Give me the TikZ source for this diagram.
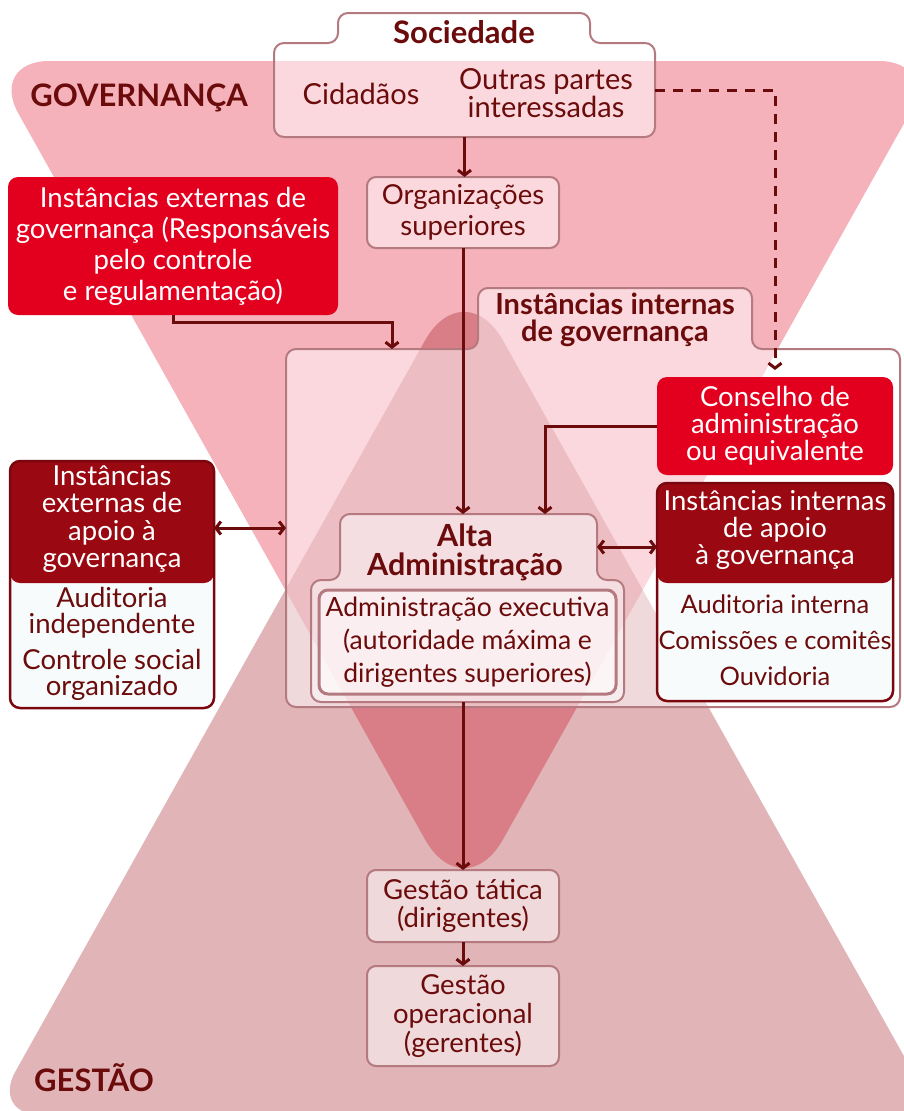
\documentclass[tikz,border=0pt]{standalone}
\usepackage{fontspec}
\setmainfont{Lato}
\usetikzlibrary{shapes,arrows.meta,backgrounds,calc}

\definecolor{GovPink}{HTML}{F5B2BB}
\definecolor{GesPink}{HTML}{E1B4B7}
\definecolor{Lobe}{HTML}{D97D87}
\definecolor{Rose}{HTML}{B47A7F}
\definecolor{Ink}{HTML}{6B0B0B}
\definecolor{Red}{HTML}{E3001F}
\definecolor{Maroon}{HTML}{9A0912}
\definecolor{Snow}{HTML}{F7FBFC}

\newcommand{\bodyfont}[1][30]{\fontsize{27.5}{#1}\selectfont}
\newcommand{\titlefont}[1][30]{\bfseries\fontsize{29}{#1}\selectfont}
% the two big funnels, y grows downwards
\newcommand{\govshape}{[rounded corners=60pt] (-11,61) -- (939,61) [rounded corners=80pt] -- (464,909) [rounded corners=60pt] -- cycle}
\newcommand{\gesshape}{[rounded corners=50pt] (-9,1115) -- (937,1115) [rounded corners=80pt] -- (464,271) [rounded corners=50pt] -- cycle}

\begin{document}
\begin{tikzpicture}[x=1pt,y=-1pt]
			\tikzstyle{Shell}	= [inner sep=0pt, outer sep=0pt]
			\tikzstyle{Text}	= [Shell, text=Ink, align=center, font=\bodyfont]
			\tikzstyle{Title}	= [Shell, text=Ink, align=center, font=\titlefont]
			\tikzstyle{Box}		= [Text, draw=Rose, line width=2pt, rounded corners=9pt, fill=white, fill opacity=0.5, text opacity=1]
			\tikzstyle{RedBox}	= [Shell, fill=Red, text=white, align=center, rounded corners=10pt, font=\bodyfont]
			\tikzstyle{Support}	= [Text, draw=Maroon!80!black, line width=2.5pt, rounded corners=10pt, fill=Snow]
			\tikzstyle{Frame}	= [draw=Rose, line width=2pt, rounded corners=10pt, fill=white, fill opacity=0.5]
			\tikzstyle{Link}	= [draw=Ink, line width=3pt, -{Straight Barb[length=5pt,width=13pt]}]
			\tikzstyle{Both}	= [draw=Ink, line width=3pt, {Straight Barb[length=5pt,width=13pt]}-{Straight Barb[length=5pt,width=13pt]}]
			\tikzstyle{DashLink}	= [Link, dash pattern=on 10pt off 8pt]

			\useasboundingbox (0,0) rectangle (904,1111);

			% sociedade
			\node (soc) at (464.5,90) [Shell, minimum width=381, minimum height=94] {};
			\node (soctab) at (464,28) [Shell, minimum width=252, minimum height=30] {};
			\node (socname) at (464,32) [Title, font={\bfseries\fontsize{31}{31}\selectfont}] {Sociedade};
			\node (cid) at (361,94) [Text, font={\fontsize{29}{30}\selectfont}] {Cidadãos};
			\node (outras) at (546,93) [Text, font={\fontsize{29}{26}\selectfont}] {Outras partes\\interessadas};

			\node (org) at (463,212.5) [Box, minimum width=192, minimum height=71, font={\bodyfont[31]}] {Organizações\\superiores};
			\node (extgov) at (173,246) [RedBox, minimum width=330, minimum height=138, font={\bodyfont[31]}] {Instâncias externas de\\governança (Responsáveis\\pelo controle\\e regulamentação)};

			% instancias internas
			\node (ingov) at (593,528) [Shell, minimum width=614, minimum height=358] {};
			\node (ingovtab) at (615,318.5) [Shell, minimum width=274, minimum height=61] {};
			\node (ingovname) at (615,320) [Title, font={\titlefont[27]}] {Instâncias internas\\de governança};

			\node (conselho) at (775,426) [RedBox, minimum width=236, minimum height=98, font={\bodyfont[27]}] {Conselho de\\administração\\ou equivalente};

			\node (apoioint) at (775,592) [Support, minimum width=236, minimum height=218,
				path picture={\fill[Maroon] (path picture bounding box.north west) rectangle ([yshift=-100pt]path picture bounding box.north east);}] {};
			\node (apoiointname) at (775,530) [Text, text=white, font={\bodyfont[27]}] {Instâncias internas\\de apoio\\à governança};
			\node (apoiointlist) at (775,640) [Text, font={\fontsize{25.5}{36}\selectfont}] {Auditoria interna\\Comissões e comitês\\Ouvidoria};

			\node (apoioext) at (112,584.5) [Support, minimum width=204, minimum height=247,
				path picture={\fill[Maroon] (path picture bounding box.north west) rectangle ([yshift=-122pt]path picture bounding box.north east);}] {};
			\node (apoioextname) at (112,519) [Text, text=white, font={\bodyfont[27.5]}] {Instâncias\\externas de\\apoio à\\governança};
			\node (apoioextlist) at (112,643.5) [Text, font={\bodyfont[26]}] {Auditoria\\independente\\[10pt]Controle social\\organizado};

			% alta administracao
			\node (alta) at (468.5,547) [Shell, minimum width=257, minimum height=66] {};
			\node (altabody) at (467.5,641) [Shell, minimum width=313, minimum height=122] {};
			\node (altaname) at (465,552) [Title, font={\bfseries\fontsize{30.5}{29}\selectfont}] {Alta\\Administração};
			\node (altaexec) at (467.5,642) [Box, line width=3pt, minimum width=297, minimum height=104, font={\fontsize{26.5}{33}\selectfont}] {Administração executiva\\(autoridade máxima e\\dirigentes superiores)};

			% gestao
			\node (gtat) at (463,906) [Box, minimum width=192, minimum height=72, font={\bodyfont[28]}] {Gestão tática\\(dirigentes)};
			\node (goper) at (463,1016) [Box, minimum width=192, minimum height=100, font={\bodyfont[29]}] {Gestão\\operacional\\(gerentes)};

			\node (govlabel) at (139,98) [Title, font={\bfseries\fontsize{31}{36}\selectfont}] {GOVERNANÇA};
			\node (geslabel) at (94,1078) [Title, font={\bfseries\fontsize{31}{36}\selectfont}] {GESTÃO};

			\begin{pgfonlayer}{background}
				\clip (0,0) rectangle (904,1111);
				\fill [GovPink] \govshape;
				\fill [GesPink] \gesshape;
				\begin{scope}
					\clip \govshape;
					\fill [Lobe] \gesshape;
				\end{scope}
				\draw [Frame] (soc.south) -- (soc.south west) -- (soc.north west) -- (soctab.south west) -- (soctab.north west) -- (soctab.north east) -- (soctab.south east) -- (soc.north east) -- (soc.south east) -- cycle;
				\draw [Frame] (ingov.south) -- (ingov.south west) -- (ingov.north west) -- (ingovtab.south west) -- (ingovtab.north west) -- (ingovtab.north east) -- (ingovtab.south east) -- (ingov.north east) -- (ingov.south east) -- cycle;
				\draw [Frame] (altabody.south) -- (altabody.south west) -- (altabody.north west) -- (alta.south west) -- (alta.north west) -- (alta.north east) -- (alta.south east) -- (altabody.north east) -- (altabody.south east) -- cycle;
			\end{pgfonlayer}

			\draw [Link] (soc.south) -- (soc.south |- org.north);
			\draw [Link] (org.south) -- (org.south |- alta.north);
			\draw [Link] (extgov.south) -- ++(0,7) -| ([xshift=106pt]ingov.north west);
			\draw [DashLink] (soc.east) -| ([yshift=7pt]conselho.north);
			\draw [Link] (conselho.west) -| ([xshift=-52pt]alta.north east);
			\draw [Both] (alta.east) -- (alta.east -| apoioint.west);
			\draw [Both] (apoioext.east |- ingov.west) -- (ingov.west);
			\draw [Link] (gtat.north |- altabody.south) -- (gtat.north);
			\draw [Link] (gtat.south) -- (goper.north);
		\end{tikzpicture}
\end{document}
